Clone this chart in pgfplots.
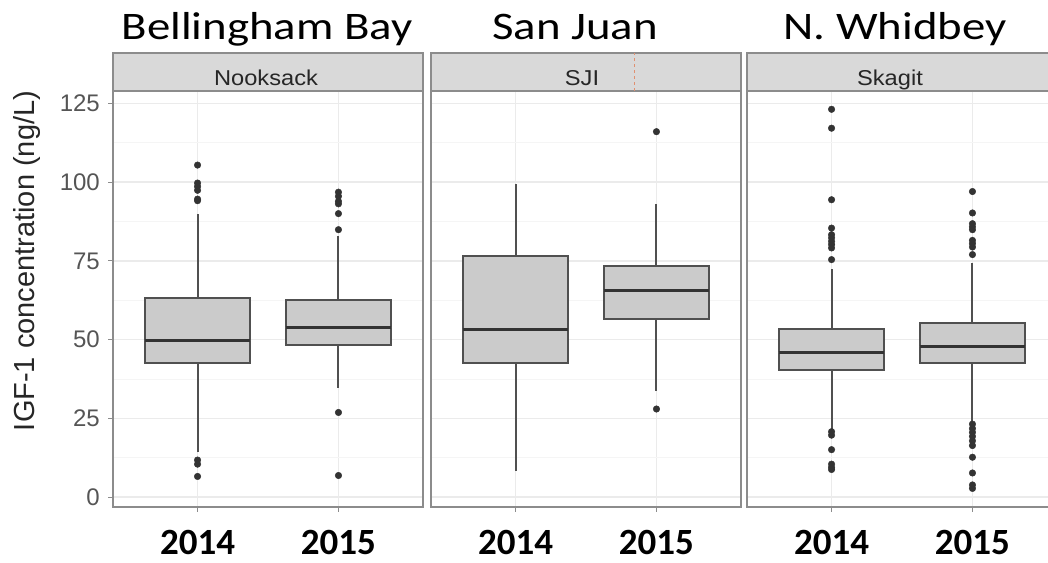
\documentclass[border=0pt]{standalone}
\usepackage{fontspec}
\setmainfont{Carlito}
\newfontfamily\arial{Liberation Sans}
\usepackage{pgfplots}
\pgfplotsset{compat=1.18}
\usepgfplotslibrary{statistics}
\definecolor{boxfill}{HTML}{CBCBCB}
\definecolor{boxline}{HTML}{505050}
\definecolor{medline}{HTML}{333333}
\definecolor{outcol}{HTML}{333333}
\definecolor{gridmaj}{HTML}{EBEBEB}
\definecolor{gridmin}{HTML}{F5F5F5}
\definecolor{border}{HTML}{8C8C8C}
\definecolor{stripfill}{HTML}{D9D9D9}
\definecolor{ticklab}{HTML}{555555}
\definecolor{dashred}{HTML}{E09070}

\pgfplotsset{
  facet/.style={
    scale only axis, width=310pt, height=416pt,
    xmin=0.4, xmax=2.6, ymin=-3, ymax=129,
    xtick={1,2}, xticklabels={2014,2015},
    ytick={0,25,50,75,100,125},
    minor ytick={12.5,37.5,62.5,87.5,112.5},
    grid=both,
    major grid style={draw=gridmaj, line width=1.5pt},
    minor grid style={draw=gridmin, line width=1pt},
    axis line style={draw=border, line width=2pt},
    tick style={draw=border, line width=1pt},
    major tick length=5pt, minor tick length=0pt,
    tick align=outside, xtick pos=left, ytick pos=left,
    /pgf/number format/assume math mode=true,
    xticklabel style={font=\bfseries\fontsize{37}{40}\selectfont, text=black, anchor=base, inner sep=0pt, yshift=-43pt},
    yticklabel style={font=\arial\fontsize{24}{26}\selectfont, text=ticklab, anchor=east, inner sep=0pt, xshift=-8pt},
    anchor=south west,
    boxplot/draw direction=y,
  },
  bx/.style={draw=boxline, fill=boxfill, line width=2pt,
    boxplot/draw direction=y,
    boxplot/box extend=0.75, boxplot/whisker extend=0,
    boxplot/every box/.style={draw=boxline, fill=boxfill, line width=2pt},
    boxplot/every whisker/.style={draw=boxline, line width=2pt},
    boxplot/every median/.style={draw=medline, line width=3pt}},
  outl/.style={only marks, mark=*, mark size=3.3pt, color=outcol, mark options={draw=outcol, fill=outcol}},
}

\begin{document}
\begin{tikzpicture}
\path[use as bounding box] (0,0) rectangle (1048pt,562pt);
\begin{scope}
\clip (0,0) rectangle (1048pt,562pt);

% ---------- Panel 1: Nooksack ----------
\begin{axis}[facet, at={(113pt,55.3pt)}]
\addplot[bx, boxplot prepared={draw position=1, lower whisker=14.2, lower quartile=42.5, median=49.6, upper quartile=63.1, upper whisker=90.0}] coordinates {};
\addplot[bx, boxplot prepared={draw position=2, lower whisker=34.8, lower quartile=48.3, median=54.0, upper quartile=62.6, upper whisker=82.8}] coordinates {};
\addplot[outl] coordinates {(1,105.4) (1,99.7) (1,98.6) (1,97.4) (1,94.6) (1,94.1) (1,11.8) (1,10.5) (1,6.6)};
\addplot[outl] coordinates {(2,96.8) (2,95.5) (2,93.9) (2,93.1) (2,90.0) (2,84.9) (2,26.9) (2,6.9)};
\end{axis}

% ---------- Panel 2: SJI ----------
\begin{axis}[facet, at={(431pt,55.3pt)}, yticklabels={}, ytick style={draw=none}]
\addplot[bx, boxplot prepared={draw position=1, lower whisker=8.4, lower quartile=42.5, median=53.3, upper quartile=76.5, upper whisker=99.5}] coordinates {};
\addplot[bx, boxplot prepared={draw position=2, lower whisker=33.8, lower quartile=56.6, median=65.7, upper quartile=73.3, upper whisker=93.1}] coordinates {};
\addplot[outl] coordinates {(2,116.0) (2,28.0)};
\end{axis}

% ---------- Panel 3: Skagit ----------
\begin{axis}[facet, at={(747pt,55.3pt)}, yticklabels={}, ytick style={draw=none}]
\addplot[bx, boxplot prepared={draw position=1, lower whisker=21.6, lower quartile=40.4, median=45.9, upper quartile=53.5, upper whisker=72.3}] coordinates {};
\addplot[bx, boxplot prepared={draw position=2, lower whisker=23.7, lower quartile=42.5, median=47.8, upper quartile=55.4, upper whisker=74.4}] coordinates {};
\addplot[outl] coordinates {(1,123.1) (1,117.1) (1,94.4) (1,85.4) (1,83.3) (1,82.3) (1,81.2) (1,80.2) (1,79.1) (1,75.4)
  (1,20.8) (1,19.7) (1,15.1) (1,10.5) (1,9.5) (1,8.8)};
\addplot[outl] coordinates {(2,97.0) (2,90.2) (2,86.8) (2,85.8) (2,84.9) (2,81.5) (2,80.5) (2,79.4) (2,77.0)
  (2,23.2) (2,21.8) (2,20.6) (2,19.3) (2,17.9) (2,16.4) (2,12.7) (2,7.7) (2,3.9) (2,2.8)};
\end{axis}

% ---------- strips ----------
\foreach \x in {113,431,747}{
  \draw[draw=border, line width=2pt, fill=stripfill] (\x pt,471.3pt) rectangle ++(310pt,38pt);
}
\draw[dashed, draw=dashred, line width=1pt] (634pt,471.3pt) -- (634pt,509.3pt);
\end{scope}

\node[anchor=base, inner sep=0pt, text=black!85] at (266pt,476pt) {\arial\fontsize{21.5}{24}\selectfont\scalebox{1.1}[1]{Nooksack}};
\node[anchor=base, inner sep=0pt, text=black!85] at (582pt,476pt) {\arial\fontsize{21.5}{24}\selectfont\scalebox{1.1}[1]{SJI}};
\node[anchor=base, inner sep=0pt, text=black!85] at (890pt,476pt) {\arial\fontsize{21.5}{24}\selectfont\scalebox{1.1}[1]{Skagit}};

% ---------- big titles ----------
\node[anchor=base, inner sep=0pt] at (267pt,522pt) {\fontsize{39}{44}\selectfont\scalebox{1.2}[1]{Bellingham Bay}};
\node[anchor=base, inner sep=0pt] at (575pt,522pt) {\fontsize{39}{44}\selectfont\scalebox{1.2}[1]{San Juan}};
\node[anchor=base, inner sep=0pt] at (895pt,522pt) {\fontsize{39}{44}\selectfont\scalebox{1.2}[1]{N. Whidbey}};

% ---------- y label ----------
\node[rotate=90, inner sep=0pt, text=black!85] at (27pt,301pt) {\arial\fontsize{29}{32}\selectfont IGF-1 concentration (ng/L)};
\end{tikzpicture}
\end{document}
